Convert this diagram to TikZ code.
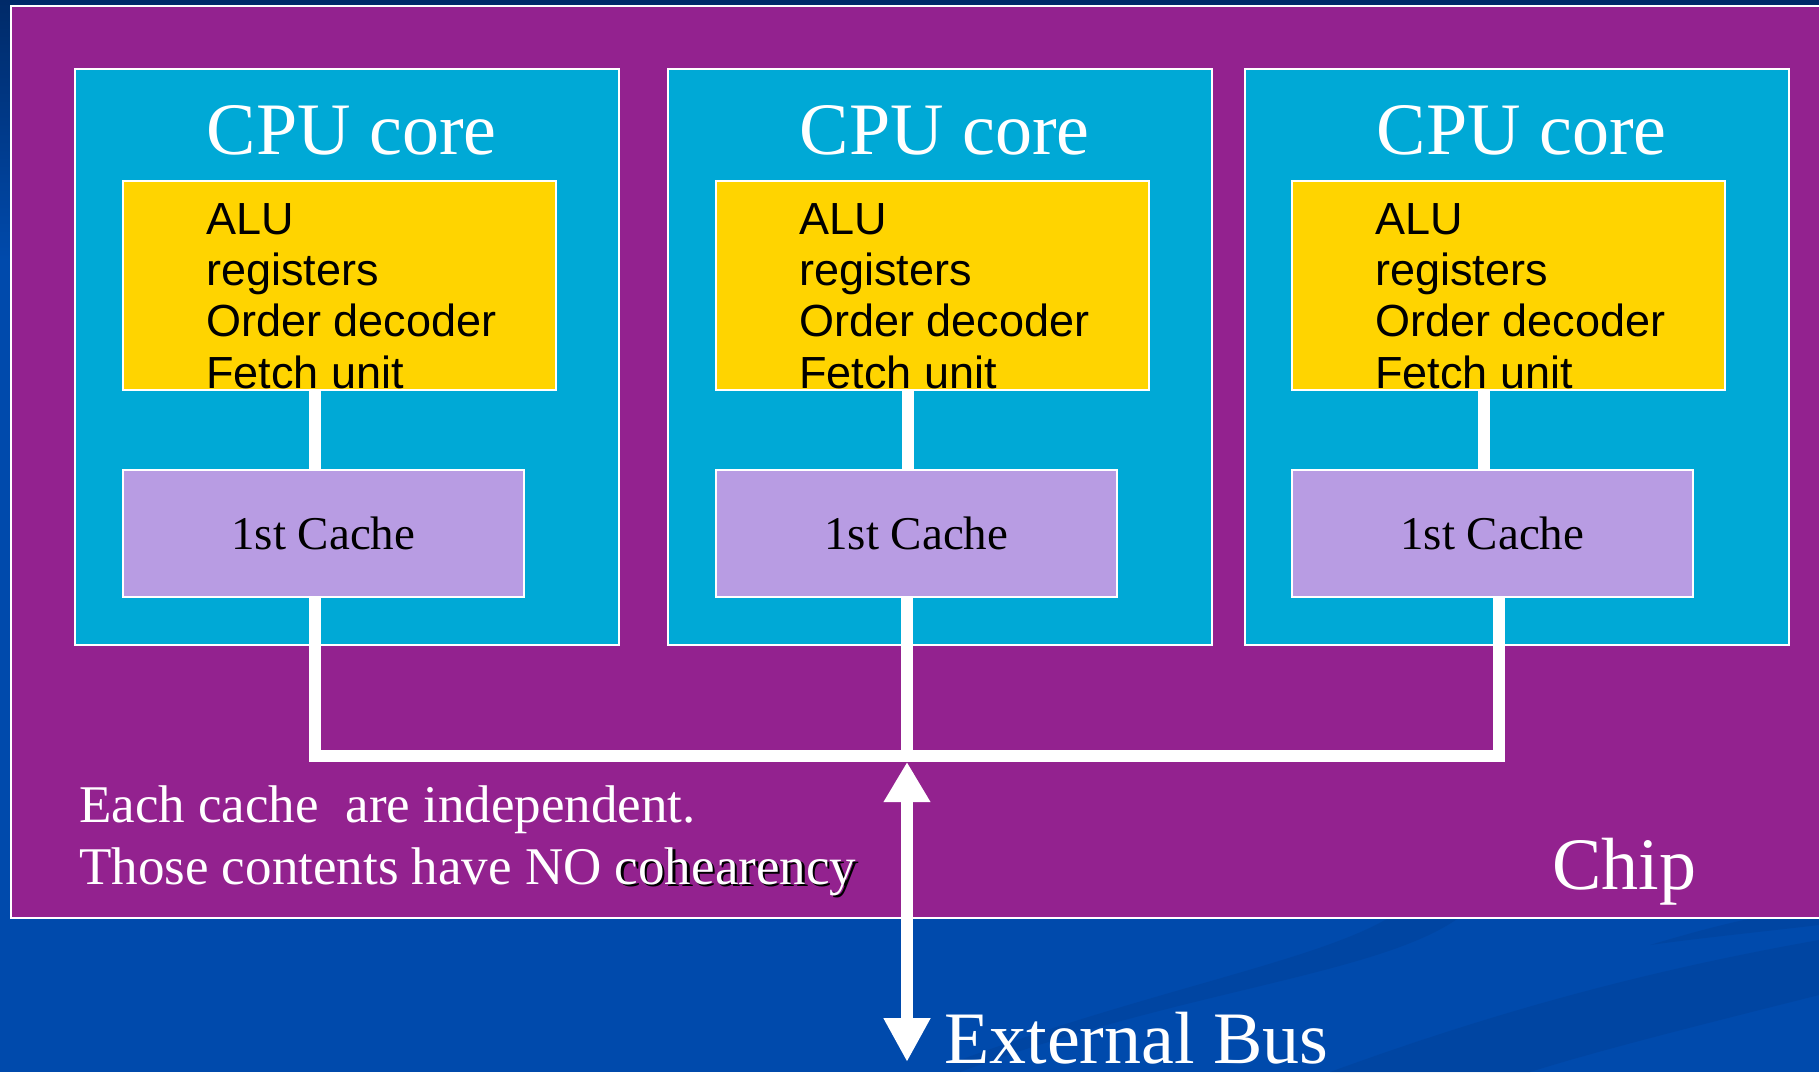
\documentclass[tikz,border=0pt]{standalone}
\usepackage{fontspec}
\setmainfont{Liberation Serif}
\newfontfamily\sansf{Liberation Sans}
\usetikzlibrary{arrows.meta}
\definecolor{bgblue}{RGB}{0,74,172}
\definecolor{bgnavy}{RGB}{0,42,104}
\definecolor{swoosh}{RGB}{0,64,150}
\definecolor{chipc}{RGB}{147,34,143}
\definecolor{corec}{RGB}{0,169,214}
\definecolor{yellowc}{RGB}{255,212,0}
\definecolor{cachec}{RGB}{184,156,227}
\newcommand\shadowword[1]{\rlap{\kern2.5pt\raisebox{-2.5pt}{\color{black}#1}}#1}
\tikzset{
  boxbase/.style={rectangle, inner sep=0pt, draw=white, line width=1.5pt, anchor=north west},
  chipbox/.style={boxbase, fill=chipc, minimum width=1830pt, minimum height=912pt},
  corebox/.style={boxbase, fill=corec, minimum width=544pt, minimum height=576pt},
  unitbox/.style={boxbase, fill=yellowc, minimum width=433pt, minimum height=209pt},
  cachebox/.style={boxbase, fill=cachec, minimum width=401pt, minimum height=127pt,
                   font=\fontsize{47}{50}\selectfont, text=black},
  title/.style={anchor=base, inner sep=0pt, text=white, font=\fontsize{74}{80}\selectfont},
  unittext/.style={anchor=base west, inner sep=0pt, align=left, text=black,
                   font=\sansf\fontsize{45}{51.3}\selectfont},
  note/.style={anchor=base west, inner sep=0pt, align=left, text=white,
               font=\fontsize{53}{62.5}\selectfont},
  biglabel/.style={anchor=base west, inner sep=0pt, text=white, font=\fontsize{74}{80}\selectfont},
  wire/.style={draw=white, line width=12pt, line join=miter},
  busarrow/.style={draw=white, line width=12pt, {Triangle[length=40pt,width=44pt]}-{Triangle[length=44pt,width=44pt]}}
}
\begin{document}
\begin{tikzpicture}[x=1pt,y=-1pt]
\useasboundingbox (0,0) rectangle (1819,1072);
% background
\fill[bgblue] (0,0) rectangle (1819,1072);
\shade[top color=bgnavy, bottom color=bgblue] (0,0) rectangle (1819,260);
\fill[swoosh, opacity=0.45] (960,1072) .. controls (1180,990) and (1380,975) .. (1460,917)
   -- (1390,917) .. controls (1320,960) and (1150,990) .. (960,1060) -- cycle;
\fill[swoosh, opacity=0.45] (1330,1072) .. controls (1500,1010) and (1650,970) .. (1819,940)
   -- (1819,995) .. controls (1700,1025) and (1600,1050) .. (1530,1072) -- cycle;
\fill[swoosh, opacity=0.45] (1650,945) .. controls (1700,930) and (1740,920) .. (1760,917)
   -- (1819,917) -- (1819,925) .. controls (1760,932) and (1700,938) .. (1650,945) -- cycle;

% chip
\node[chipbox] (chip) at (10,5) {};

% cores
\node[corebox] (k1) at (74,68) {};
\node[corebox] (k2) at (667,68) {};
\node[corebox] (k3) at (1244,68) {};

\foreach \i/\x in {1/122, 2/715, 3/1291} {
  \node[unitbox] (u\i) at (\x,180) {};
  \node[cachebox] (c\i) at (\x,469) {1st Cache};
}

% titles and unit texts
\foreach \i in {1,2,3} {
  \node[title] (t\i) at ([xshift=5pt,yshift=-86pt]k\i.north) {CPU core};
  \node[unittext] (ut\i) at ([xshift=84pt,yshift=-208pt]u\i.north west)
     {ALU\\registers\\Order decoder\\Fetch unit};
}

% wires unit -> cache
\foreach \i in {1,2,3} {
  \draw[wire] ([xshift=193pt]u\i.south west) -- ([xshift=193pt]c\i.north west);
}

% bus
\coordinate (bus) at (907,756);
\coordinate (busj) at (907,762);
\coordinate (busend) at (907,1062);
\draw[wire] ([xshift=193pt]c1.south west) |- (bus) -| ([xshift=208pt]c3.south west);
\draw[wire] ([xshift=192pt]c2.south west) -- (bus);
\draw[busarrow] (busj) -- (busend);

% texts
\node[note] (n1) at (79,822) {Each cache\ \ are independent.};
\node[note] (n2) at (79,884) {Those contents have NO \shadowword{cohearency}};
\node[biglabel] (chiplabel) at (1552,889) {Chip};
\node[biglabel] (extbus) at (944,1063) {External Bus};
\end{tikzpicture}
\end{document}
